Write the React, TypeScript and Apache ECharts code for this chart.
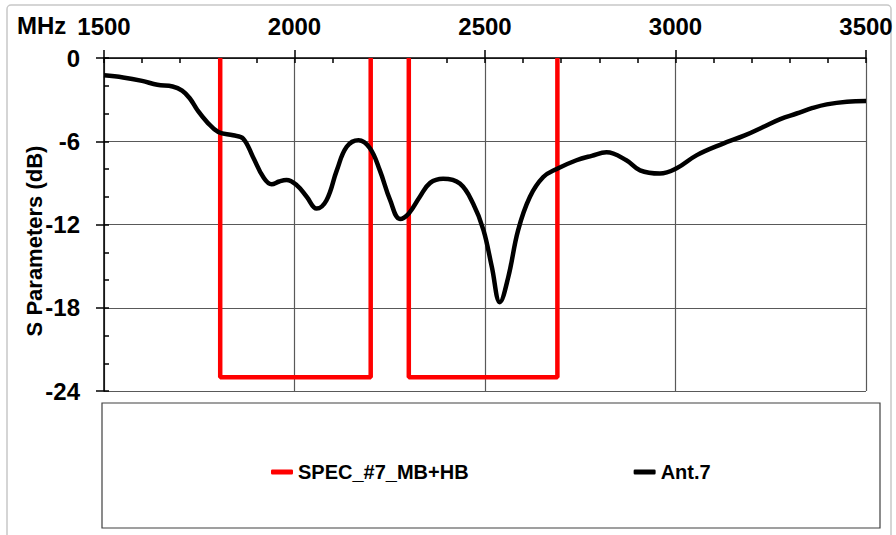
import React, { useEffect, useRef } from "react";
import * as echarts from "echarts";

const xTicks = [1500, 2000, 2500, 3000, 3500];
const yTicks = [0, -6, -12, -18, -24];

const specFreq = [1805, 1805, 2200, 2200, 2250, 2300, 2300, 2690, 2690];
const specLevel: (number | string)[] = [0, -23, -23, 0, "-", 0, -23, -23, 0];

const antFreq = [
  1500, 1550, 1600, 1640, 1680, 1705, 1725, 1745, 1770, 1800, 1839, 1865, 1891, 1918, 1940, 1960, 1979, 2006,
  2032, 2058, 2084, 2111, 2137, 2168, 2198, 2224, 2251, 2277, 2300, 2329, 2356, 2390, 2434, 2469, 2496, 2518,
  2539, 2561, 2587, 2618, 2653, 2688, 2740, 2780, 2819, 2871, 2907, 2959, 3003, 3056, 3125, 3180, 3230, 3275,
  3318, 3360, 3397, 3450, 3500,
];
const antS11 = [
  -1.25, -1.4, -1.65, -1.93, -2.05, -2.35, -2.9, -3.75, -4.6, -5.33, -5.57, -5.8, -7.13, -8.58, -9.1, -8.9, -8.8,
  -9.17, -10.0, -10.85, -10.25, -8.1, -6.4, -5.93, -6.5, -8.1, -10.25, -11.6, -11.2, -10.0, -9.0, -8.7, -9.05,
  -10.5, -12.4, -15.06, -17.6, -15.8, -12.4, -10.0, -8.58, -8.0, -7.37, -7.05, -6.8, -7.37, -8.1, -8.33, -7.95,
  -7.0, -6.17, -5.6, -4.97, -4.4, -4.0, -3.6, -3.34, -3.15, -3.1,
];

const FONT = "'Liberation Sans', Arial, sans-serif";

export default function App() {
  const ref = useRef<HTMLDivElement>(null);
  useEffect(() => {
    document.body.style.margin = "0";
    if (!ref.current) return;
    const chart = echarts.init(ref.current, undefined, { renderer: "svg" });
    const xMin = xTicks[0];
    const xMax = xTicks[xTicks.length - 1];
    const yMin = yTicks[yTicks.length - 1];
    const yMax = yTicks[0];
    chart.setOption({
      animation: false,
      backgroundColor: "#ffffff",
      grid: { left: 104, top: 58, right: 30, bottom: 144, containLabel: false },
      xAxis: [
        {
          type: "value",
          position: "top",
          min: xMin,
          max: xMax,
          interval: 500,
          axisLine: { show: true, lineStyle: { color: "#000", width: 1.5 } },
          axisTick: { show: true, inside: false, length: 8, lineStyle: { color: "#000", width: 1.5 } },
          axisLabel: {
            margin: 20,
            color: "#000",
            fontFamily: FONT,
            fontWeight: "bold",
            fontSize: 24,
            formatter: (v: number) => String(v),
          },
          splitLine: { show: true, lineStyle: { color: "#595959", width: 1.2 } },
        },
        {
          type: "value",
          position: "top",
          min: xMin,
          max: xMax,
          interval: 100,
          axisLine: { show: false },
          axisTick: { show: true, inside: true, length: 5, lineStyle: { color: "#000", width: 1.5 } },
          axisLabel: { show: false },
          splitLine: { show: false },
        },
      ],
      yAxis: [
        {
          type: "value",
          position: "left",
          min: yMin,
          max: yMax,
          interval: 6,
          axisLine: { show: true, lineStyle: { color: "#000", width: 1.5 } },
          axisTick: { show: true, inside: false, length: 8, lineStyle: { color: "#000", width: 1.5 } },
          axisLabel: {
            margin: 24,
            color: "#000",
            fontFamily: FONT,
            fontWeight: "bold",
            fontSize: 24,
            formatter: (v: number) => String(v),
          },
          splitLine: { show: true, lineStyle: { color: "#595959", width: 1.2 } },
        },
        {
          type: "value",
          position: "left",
          min: yMin,
          max: yMax,
          interval: 2,
          axisLine: { show: false },
          axisTick: { show: true, inside: true, length: 5, lineStyle: { color: "#000", width: 1.5 } },
          axisLabel: { show: false },
          splitLine: { show: false },
        },
      ],
      legend: {
        left: 266,
        top: 457,
        itemGap: 165,
        itemWidth: 22,
        itemHeight: 5,
        icon: "roundRect",
        textStyle: { fontFamily: FONT, fontWeight: "bold", fontSize: 20, color: "#000" },
        data: ["SPEC_#7_MB+HB", "Ant.7"],
      },
      graphic: [
        {
          type: "rect",
          silent: true,
          shape: { x: 7, y: 5, width: 884, height: 545, r: 4 },
          style: { fill: "none", stroke: "#c8c8c8", lineWidth: 1.5 },
          z: -10,
        },
        {
          type: "rect",
          silent: true,
          shape: { x: 102, y: 403, width: 778, height: 125 },
          style: { fill: "none", stroke: "#404040", lineWidth: 1.2 },
        },
        {
          type: "text",
          x: 17,
          y: 25,
          style: {
            text: "MHz",
            fontFamily: FONT,
            fontWeight: "bold",
            fontSize: 24,
            fill: "#000",
            textVerticalAlign: "middle",
            textAlign: "left",
          },
        },
        {
          type: "text",
          x: 34,
          y: 241,
          rotation: Math.PI / 2,
          style: {
            text: "S Parameters (dB)",
            fontFamily: FONT,
            fontWeight: "bold",
            fontSize: 22,
            fill: "#000",
            textVerticalAlign: "middle",
            textAlign: "center",
          },
        },
      ],
      series: [
        {
          name: "SPEC_#7_MB+HB",
          type: "line",
          xAxisIndex: 0,
          yAxisIndex: 0,
          showSymbol: false,
          symbol: "none",
          connectNulls: false,
          lineStyle: { color: "#ff0000", width: 4.5 },
          itemStyle: { color: "#ff0000" },
          data: specFreq.map((f, i) => [f, specLevel[i]]),
          z: 3,
        },
        {
          name: "Ant.7",
          type: "line",
          xAxisIndex: 0,
          yAxisIndex: 0,
          showSymbol: false,
          symbol: "none",
          smooth: 0.4,
          lineStyle: { color: "#000000", width: 4.5 },
          itemStyle: { color: "#000000" },
          data: antFreq.map((f, i) => [f, antS11[i]]),
          z: 4,
        },
      ],
    });
    return () => chart.dispose();
  }, []);
  return <div ref={ref} style={{ width: 896, height: 535 }} />;
}
